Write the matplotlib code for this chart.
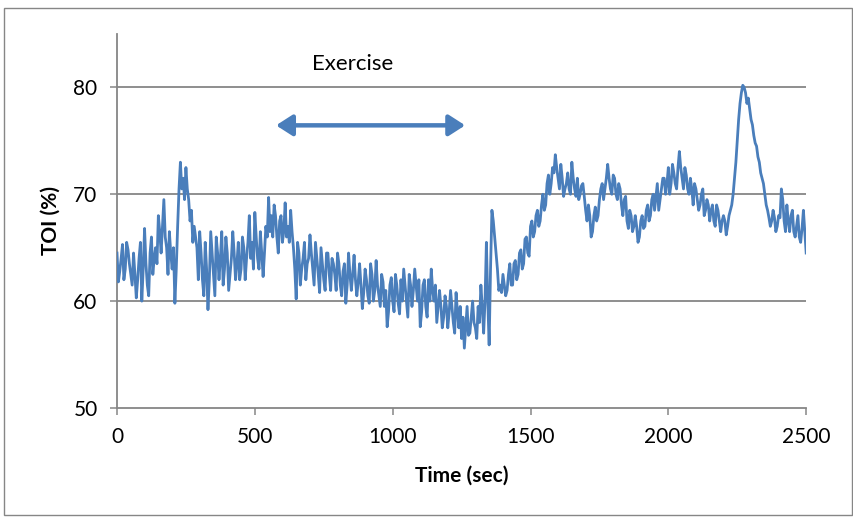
import numpy as np
import matplotlib
matplotlib.use("Agg")
import matplotlib.pyplot as plt
from matplotlib.patches import Rectangle

plt.rcParams["font.family"] = ["Lato", "DejaVu Sans"]

# half-step of the read-off trace (sec)
half_step = 5

# TOI (%) at t = 0, 10, 20 ... 2500 s
toi_0_420 = [64.5, 62.8, 65.3, 63.0, 64.8, 62.5, 64.5, 60.3, 64.0, 60.0,
             66.8, 61.5, 64.5, 62.5, 65.0, 68.0, 64.5, 69.5, 65.0, 66.5,
             63.0, 59.8, 67.0, 73.0, 71.5, 72.5, 69.5, 68.5, 67.0, 65.0,
             66.5, 62.0, 65.5, 59.2, 66.5, 62.5, 66.0, 62.0, 66.5, 63.0,
             64.5, 62.5, 66.5]
toi_430_840 = [62.0, 65.5, 63.0, 65.0, 64.0, 68.0, 65.5, 68.3, 64.0, 66.5,
               62.3, 67.0, 69.7, 68.0, 69.0, 66.0, 67.5, 65.5, 69.2, 67.0,
               68.5, 65.0, 60.2, 64.5, 63.0, 65.5, 63.5, 66.2, 63.0, 65.5,
               62.5, 65.0, 62.0, 64.5, 62.5, 64.0, 62.5, 64.5, 61.5, 62.8,
               59.8, 64.5]
toi_850_1250 = [61.0, 64.3, 60.5, 63.5, 59.3, 63.0, 60.5, 63.5, 60.0, 63.8,
                60.5, 62.5, 59.5, 57.6, 61.5, 60.0, 62.5, 59.8, 62.0, 63.0,
                60.0, 62.5, 59.5, 63.0, 60.0, 57.6, 61.5, 59.5, 62.0, 63.0,
                60.0, 58.0, 61.0, 57.5, 60.5, 57.5, 61.0, 58.0, 60.8, 57.5,
                56.5]
toi_1260_1670 = [55.6, 59.5, 57.0, 60.0, 57.5, 59.5, 61.5, 57.0, 65.5, 55.9,
                 68.5, 66.0, 63.0, 61.5, 62.5, 60.5, 62.5, 61.5, 63.5, 62.0,
                 64.5, 63.0, 65.8, 64.5, 67.0, 66.0, 68.0, 67.0, 69.0, 68.5,
                 71.0, 70.0, 72.5, 73.7, 71.5, 72.8, 69.8, 71.0, 70.5, 73.0,
                 70.5, 71.5]
toi_1680_2090 = [70.0, 71.0, 68.5, 69.0, 66.0, 68.0, 67.5, 69.5, 71.0, 70.5,
                 72.8, 70.5, 71.8, 70.0, 71.0, 69.0, 69.5, 67.5, 68.5, 66.5,
                 68.0, 65.5, 67.5, 66.8, 68.5, 67.5, 69.5, 68.5, 71.0, 69.5,
                 71.5, 70.0, 72.5, 71.0, 72.0, 70.5, 74.0, 71.5, 72.5, 70.5,
                 71.5, 69.0]
toi_2100_2500 = [70.5, 68.5, 70.0, 68.0, 69.5, 67.5, 69.0, 67.0, 68.5, 66.5,
                 68.0, 66.2, 68.0, 69.0, 71.5, 75.0, 78.5, 80.2, 79.5, 79.0,
                 77.0, 75.5, 74.5, 73.0, 71.5, 70.0, 68.5, 67.0, 68.5, 66.5,
                 68.0, 70.5, 67.5, 69.0, 66.5, 68.5, 66.0, 68.0, 65.5, 68.5,
                 64.5]

# TOI (%) read at the in-between times t = 5, 15, 25 ... 2495 s
mid_5_415 = [61.8, 64.0, 62.0, 65.5, 63.5, 61.5, 62.5, 62.0, 65.5, 63.0,
             63.5, 60.5, 66.0, 64.0, 63.5, 66.5, 67.0, 66.0, 62.5, 64.5,
             65.0, 63.0, 70.5, 70.5, 69.5, 70.5, 67.5, 65.5, 66.0, 62.0,
             64.5, 60.5, 63.0, 62.0, 64.5, 60.5, 64.5, 64.0, 61.5, 66.0,
             61.0, 64.0]
mid_425_835 = [64.5, 63.5, 62.0, 66.0, 62.0, 65.5, 64.0, 63.0, 66.0, 63.0,
               64.5, 64.5, 66.0, 66.5, 66.0, 68.0, 64.5, 68.0, 66.5, 66.0,
               65.5, 66.5, 63.0, 65.5, 61.5, 64.0, 62.0, 64.0, 64.5, 61.5,
               64.0, 60.8, 63.5, 61.0, 64.5, 61.0, 63.5, 61.0, 63.5, 60.5,
               63.5, 61.5]
mid_845_1245 = [62.5, 62.5, 62.0, 61.8, 61.5, 60.8, 62.0, 59.8, 62.5, 61.0,
                61.5, 59.5, 61.8, 61.0, 59.0, 62.2, 59.0, 61.5, 58.8, 60.0,
                61.5, 58.5, 61.5, 61.0, 61.5, 62.0, 59.0, 62.0, 58.5, 60.0,
                61.0, 61.5, 59.5, 59.5, 58.5, 59.5, 59.0, 59.5, 57.0, 59.0,
                59.5]
mid_1255_1665 = [58.5, 57.5, 56.8, 58.5, 58.0, 56.5, 58.0, 59.5, 60.0, 60.0,
                 63.0, 67.5, 64.5, 61.0, 60.8, 61.5, 61.0, 63.5, 61.5, 63.8,
                 62.5, 64.8, 63.5, 66.0, 64.2, 67.5, 66.5, 68.5, 67.5, 70.0,
                 69.0, 71.8, 71.0, 72.0, 72.5, 70.5, 71.5, 70.5, 72.0, 70.0,
                 71.5, 69.8]
mid_1675_2085 = [69.5, 70.8, 69.8, 67.5, 68.0, 66.5, 68.8, 68.0, 70.5, 69.5,
                 71.5, 71.5, 70.0, 71.5, 69.5, 70.5, 68.0, 69.8, 66.8, 68.0,
                 67.0, 67.0, 66.0, 68.0, 67.0, 69.0, 68.0, 70.0, 69.8, 68.5,
                 70.5, 71.5, 71.0, 70.0, 72.8, 71.0, 72.5, 72.5, 70.5, 71.8,
                 70.0, 70.5]
mid_2095_2495 = [71.0, 69.5, 69.0, 70.5, 68.5, 69.0, 68.5, 67.5, 69.0, 67.5,
                 67.5, 67.5, 67.0, 68.5, 70.0, 73.0, 77.0, 79.5, 80.0, 78.5,
                 78.0, 76.5, 74.8, 73.5, 72.0, 71.0, 69.0, 67.8, 67.5, 67.8,
                 67.0, 67.8, 69.5, 66.5, 67.5, 68.0, 66.5, 67.0, 66.0, 66.8,
                 66.5]

toi_even = np.array(toi_0_420 + toi_430_840 + toi_850_1250 +
                    toi_1260_1670 + toi_1680_2090 + toi_2100_2500)
toi_odd = np.array(mid_5_415 + mid_425_835 + mid_845_1245 +
                   mid_1255_1665 + mid_1675_2085 + mid_2095_2495)

# interleave the two readings into one trace
toi = np.empty(len(toi_even) + len(toi_odd))
toi[0::2] = toi_even
toi[1::2] = toi_odd
time_sec = np.arange(len(toi)) * half_step

x_ticks = [0, 500, 1000, 1500, 2000, 2500]
y_ticks = [50, 60, 70, 80]

# exercise period marked by the arrow
exercise_start = 577
exercise_end = 1263
arrow_level = 76.45

line_col = "#4a7ebb"
grid_col = "#868686"

fig = plt.figure(figsize=(8.54, 5.18), dpi=100)
ax = fig.add_axes([0.137, 0.2124, 0.807, 0.722])

ax.plot(time_sec, toi, color=line_col, linewidth=2.0, zorder=3)

ax.set_xlim(0, 2500)
ax.set_ylim(50, 85)
ax.set_xticks(x_ticks)
ax.set_yticks(y_ticks)

for v in y_ticks[1:]:
    ax.axhline(v, color=grid_col, linewidth=1.3, zorder=1)

for side in ["top", "right"]:
    ax.spines[side].set_visible(False)
for side in ["left", "bottom"]:
    ax.spines[side].set_color(grid_col)
    ax.spines[side].set_linewidth(1.3)

ax.tick_params(direction="out", length=5, width=1.1, color=grid_col,
               labelsize=15, pad=9, labelcolor="black")

ax.set_xlabel("Time (sec)", fontsize=15, fontweight="bold", labelpad=13)
ax.set_ylabel("TOI (%)", fontsize=15, fontweight="bold", labelpad=9)

ax.annotate("", xy=(exercise_end, arrow_level), xytext=(exercise_start, arrow_level),
            arrowprops=dict(arrowstyle="<|-|>,head_length=0.7,head_width=0.45",
                            color=line_col, linewidth=3.2, mutation_scale=14,
                            shrinkA=0, shrinkB=0))
ax.text(853, 82.2, "Exercise", fontsize=16, ha="center", va="center")

# outer chart border
fig.patches.append(Rectangle((4 / 854, 3 / 518), 848 / 854, 507 / 518,
                             transform=fig.transFigure, fill=False,
                             edgecolor=grid_col, linewidth=1))

fig.savefig("out.png", dpi=100)
